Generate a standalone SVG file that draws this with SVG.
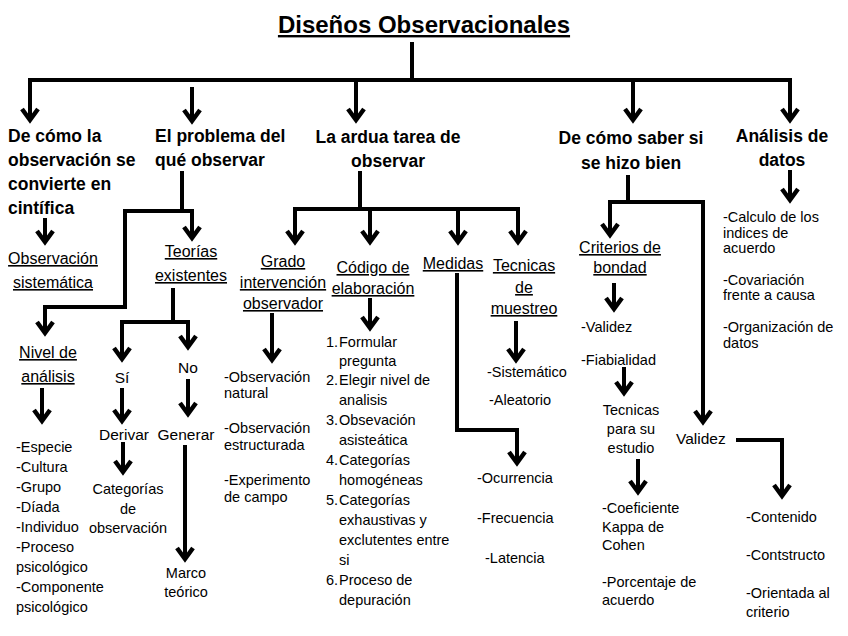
<svg xmlns="http://www.w3.org/2000/svg" width="848" height="636" viewBox="0 0 848 636">
<style>
text{font-family:"Liberation Sans",Arial,sans-serif;fill:#000}
.ti{font-weight:bold;font-size:24px;text-decoration:underline}
.h{font-weight:bold;font-size:17.5px}
.s{font-size:16px;text-decoration:underline}
.p{font-size:15.5px}
.t{font-size:14.5px}
.c{text-anchor:middle}
.ln{fill:none;stroke:#000;stroke-width:4;stroke-linejoin:miter}
.ar{fill:none;stroke:#000;stroke-width:4;stroke-linejoin:miter;marker-end:url(#ah)}
</style>
<defs>
<marker id="ah" markerUnits="userSpaceOnUse" markerWidth="24" markerHeight="24" viewBox="-12 -12 24 24" refX="0" refY="0" orient="auto" overflow="visible">
<path d="M-11,-8 L0,0 L-11,8" fill="none" stroke="#000" stroke-width="4.5"/>
</marker>
</defs>
<rect width="848" height="636" fill="#fff"/>

<g id="connectors">
<path class="ln" d="M412,42 V80"/>
<path class="ln" d="M28,80 H792"/>
<path class="ar" d="M30,80 V120"/>
<path class="ar" d="M192,87 V121"/>
<path class="ar" d="M356,80 V120"/>
<path class="ar" d="M633,80 V120"/>
<path class="ar" d="M790,80 V120"/>
<path class="ar" d="M45,218 V242"/>
<path class="ln" d="M182,171 V211"/>
<path class="ar" d="M123,211 H192 V238"/>
<path class="ar" d="M125,211 V307 H45 V333"/>
<path class="ln" d="M173,288 V322"/>
<path class="ar" d="M120,322 H188 V347"/>
<path class="ar" d="M122,322 V359"/>
<path class="ar" d="M42,388 V421"/>
<path class="ar" d="M122,388 V421"/>
<path class="ar" d="M188,379 V414"/>
<path class="ar" d="M123,442 V472"/>
<path class="ar" d="M185,445 V559"/>
<path class="ln" d="M360,171 V209"/>
<path class="ln" d="M293,209 H520"/>
<path class="ar" d="M295,209 V242"/>
<path class="ar" d="M370,209 V242"/>
<path class="ar" d="M458,209 V242"/>
<path class="ar" d="M518,209 V242"/>
<path class="ar" d="M272,313 V360"/>
<path class="ar" d="M370,298 V328"/>
<path class="ar" d="M457,273 V430 H517 V463"/>
<path class="ar" d="M516,321 V360"/>
<path class="ln" d="M628,175 V202"/>
<path class="ln" d="M608,202 H705"/>
<path class="ar" d="M610,202 V235"/>
<path class="ar" d="M703,202 V422"/>
<path class="ar" d="M614,283 V309"/>
<path class="ar" d="M624,367 V393"/>
<path class="ar" d="M638,459 V492"/>
<path class="ar" d="M736,440 H782 V496"/>
<path class="ar" d="M790,170 V200"/>
</g>

<g id="title"><text class="ti c" x="424" y="33">Diseños Observacionales</text></g>

<g id="n-cientifica">
<text class="h" x="8" y="142">De cómo la</text>
<text class="h" x="8" y="166">observación se</text>
<text class="h" x="8" y="190">convierte en</text>
<text class="h" x="8" y="214">cintífica</text>
</g>
<g id="n-problema">
<text class="h" x="155" y="142">El problema del</text>
<text class="h" x="155" y="166">qué observar</text>
</g>
<g id="n-ardua">
<text class="h c" x="388" y="143">La ardua tarea de</text>
<text class="h c" x="388" y="167">observar</text>
</g>
<g id="n-saber">
<text class="h c" x="631" y="144">De cómo saber si</text>
<text class="h c" x="631" y="169">se hizo bien</text>
</g>
<g id="n-analisis">
<text class="h c" x="782" y="142">Análisis de</text>
<text class="h c" x="782" y="166">datos</text>
</g>

<g id="n-obs-sistematica">
<text class="s c" x="53" y="264">Observación</text>
<text class="s c" x="53" y="288">sistemática</text>
</g>
<g id="n-teorias">
<text class="s c" x="191" y="257">Teorías</text>
<text class="s c" x="191" y="281">existentes</text>
</g>
<g id="n-nivel">
<text class="s c" x="48" y="358">Nivel de</text>
<text class="s c" x="48" y="382">análisis</text>
</g>
<g id="n-si"><text class="p c" x="122" y="383">Sí</text></g>
<g id="n-no"><text class="p c" x="188" y="373">No</text></g>
<g id="n-derivar"><text class="p c" x="124" y="440">Derivar</text></g>
<g id="n-generar"><text class="p c" x="186" y="440">Generar</text></g>
<g id="n-categorias">
<text class="t c" x="128" y="494">Categorías</text>
<text class="t c" x="128" y="514">de</text>
<text class="t c" x="128" y="533">observación</text>
</g>
<g id="n-marco">
<text class="t c" x="186" y="578">Marco</text>
<text class="t c" x="186" y="597">teórico</text>
</g>
<g id="n-niveles-lista">
<text class="t" x="16" y="452">-Especie</text>
<text class="t" x="16" y="472">-Cultura</text>
<text class="t" x="16" y="492">-Grupo</text>
<text class="t" x="16" y="512">-Díada</text>
<text class="t" x="16" y="532">-Individuo</text>
<text class="t" x="16" y="552">-Proceso</text>
<text class="t" x="16" y="572">psicológico</text>
<text class="t" x="16" y="592">-Componente</text>
<text class="t" x="16" y="612">psicológico</text>
</g>

<g id="n-grado">
<text class="s c" x="283" y="267">Grado</text>
<text class="s c" x="283" y="288">intervención</text>
<text class="s c" x="283" y="309">observador</text>
</g>
<g id="n-grado-lista">
<text class="t" x="224" y="382">-Observación</text>
<text class="t" x="224" y="398">natural</text>
<text class="t" x="224" y="433">-Observación</text>
<text class="t" x="224" y="450">estructurada</text>
<text class="t" x="224" y="485">-Experimento</text>
<text class="t" x="224" y="502">de campo</text>
</g>
<g id="n-codigo">
<text class="s c" x="373" y="273">Código de</text>
<text class="s c" x="373" y="294">elaboración</text>
</g>
<g id="n-codigo-lista">
<text class="t" x="326" y="347">1.</text><text class="t" x="339" y="347">Formular</text>
<text class="t" x="339" y="366">pregunta</text>
<text class="t" x="326" y="385">2.</text><text class="t" x="339" y="385">Elegir nivel de</text>
<text class="t" x="339" y="405">analisis</text>
<text class="t" x="326" y="425">3.</text><text class="t" x="339" y="425">Obsevación</text>
<text class="t" x="339" y="445">asisteática</text>
<text class="t" x="326" y="465">4.</text><text class="t" x="339" y="465">Categorías</text>
<text class="t" x="339" y="485">homogéneas</text>
<text class="t" x="326" y="505">5.</text><text class="t" x="339" y="505">Categorías</text>
<text class="t" x="339" y="525">exhaustivas y</text>
<text class="t" x="339" y="545">exclutentes entre</text>
<text class="t" x="339" y="565">si</text>
<text class="t" x="326" y="585">6.</text><text class="t" x="339" y="585">Proceso de</text>
<text class="t" x="339" y="605">depuración</text>
</g>
<g id="n-medidas"><text class="s c" x="453" y="269">Medidas</text></g>
<g id="n-medidas-lista">
<text class="t" x="477" y="483">-Ocurrencia</text>
<text class="t" x="477" y="523">-Frecuencia</text>
<text class="t" x="485" y="563">-Latencia</text>
</g>
<g id="n-muestreo">
<text class="s c" x="524" y="271">Tecnicas</text>
<text class="s c" x="524" y="293">de</text>
<text class="s c" x="524" y="314">muestreo</text>
</g>
<g id="n-muestreo-lista">
<text class="t" x="487" y="377">-Sistemático</text>
<text class="t" x="489" y="405">-Aleatorio</text>
</g>

<g id="n-criterios">
<text class="s c" x="620" y="253">Criterios de</text>
<text class="s c" x="620" y="273">bondad</text>
</g>
<g id="n-criterios-lista">
<text class="t" x="581" y="332">-Validez</text>
<text class="t" x="581" y="365">-Fiabialidad</text>
</g>
<g id="n-tecnicas-estudio">
<text class="t c" x="631" y="415">Tecnicas</text>
<text class="t c" x="631" y="434">para su</text>
<text class="t c" x="631" y="453">estudio</text>
</g>
<g id="n-tecnicas-lista">
<text class="t" x="602" y="513">-Coeficiente</text>
<text class="t" x="602" y="532">Kappa de</text>
<text class="t" x="602" y="550">Cohen</text>
<text class="t" x="602" y="587">-Porcentaje de</text>
<text class="t" x="602" y="605">acuerdo</text>
</g>
<g id="n-validez"><text class="p" x="676" y="444">Validez</text></g>
<g id="n-validez-lista">
<text class="t" x="746" y="522">-Contenido</text>
<text class="t" x="746" y="560">-Contstructo</text>
<text class="t" x="746" y="598">-Orientada al</text>
<text class="t" x="746" y="617">criterio</text>
</g>
<g id="n-analisis-lista">
<text class="t" x="723" y="222">-Calculo de los</text>
<text class="t" x="723" y="238">indices de</text>
<text class="t" x="723" y="253">acuerdo</text>
<text class="t" x="723" y="285">-Covariación</text>
<text class="t" x="723" y="300">frente a causa</text>
<text class="t" x="723" y="332">-Organización de</text>
<text class="t" x="723" y="348">datos</text>
</g>
</svg>
